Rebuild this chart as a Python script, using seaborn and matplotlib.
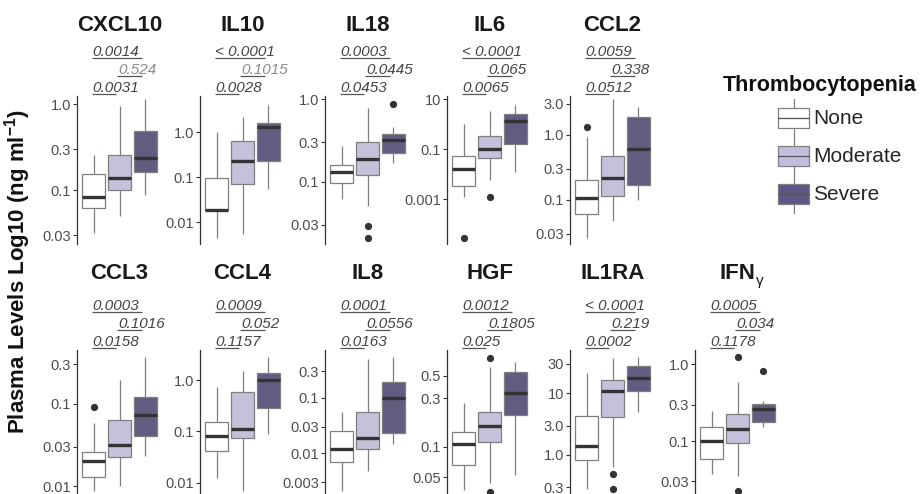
import numpy as np
import pandas as pd
import matplotlib
matplotlib.use("Agg")
import matplotlib.pyplot as plt
import seaborn as sns
from matplotlib.transforms import blended_transform_factory, offset_copy
from matplotlib.legend_handler import HandlerBase
from matplotlib.patches import Patch, Rectangle
from matplotlib.lines import Line2D
from matplotlib.ticker import FixedLocator, FixedFormatter, NullLocator

# -------------------------------
# Data
# box stats per group: [whisker low, Q1, median, Q3, whisker high]
# -------------------------------
groups = ["None", "Moderate", "Severe"]
group_colors = ["#ffffff", "#c1bdde", "#5f5687"]

cxcl10_stats = [[0.032, 0.062, 0.083, 0.153, 0.255],
                [0.050, 0.100, 0.138, 0.255, 0.95],
                [0.088, 0.162, 0.235, 0.49, 1.14]]
cxcl10_fliers = [[], [], []]
cxcl10_p = ["0.0014", "0.524", "0.0031"]
cxcl10_ticks = [0.03, 0.1, 0.3, 1.0]
cxcl10_labels = ["0.03", "0.1", "0.3", "1.0"]

il10_stats = [[0.0045, 0.0187, 0.0187, 0.097, 1.0],
              [0.0055, 0.07, 0.23, 0.64, 2.2],
              [0.056, 0.23, 1.31, 1.6, 4.0]]
il10_fliers = [[], [], []]
il10_p = ["< 0.0001", "0.1015", "0.0028"]
il10_ticks = [0.01, 0.1, 1.0]
il10_labels = ["0.01", "0.1", "1.0"]

il18_stats = [[0.061, 0.096, 0.13, 0.16, 0.27],
              [0.050, 0.12, 0.19, 0.30, 0.79],
              [0.17, 0.225, 0.32, 0.38, 0.46]]
il18_fliers = [[], [0.029, 0.0206], [0.88]]
il18_p = ["0.0003", "0.0445", "0.0453"]
il18_ticks = [0.03, 0.1, 0.3, 1.0]
il18_labels = ["0.03", "0.1", "0.3", "1.0"]

il6_stats = [[0.0012, 0.0034, 0.017, 0.054, 1.0],
             [0.0059, 0.044, 0.10, 0.34, 3.5],
             [0.0126, 0.16, 1.35, 2.5, 5.9]]
il6_fliers = [[2.8e-5], [0.0012], []]
il6_p = ["< 0.0001", "0.065", "0.0065"]
il6_ticks = [0.001, 0.1, 10]
il6_labels = ["0.001", "0.1", "10"]

ccl2_stats = [[0.026, 0.060, 0.108, 0.20, 0.94],
              [0.048, 0.115, 0.22, 0.47, 3.6],
              [0.10, 0.17, 0.61, 1.87, 2.67]]
ccl2_fliers = [[1.34], [], []]
ccl2_p = ["0.0059", "0.338", "0.0512"]
ccl2_ticks = [0.03, 0.1, 0.3, 1.0, 3.0]
ccl2_labels = ["0.03", "0.1", "0.3", "1.0", "3.0"]

ccl3_stats = [[0.0088, 0.013, 0.0203, 0.026, 0.058],
              [0.010, 0.0223, 0.0316, 0.063, 0.194],
              [0.023, 0.040, 0.073, 0.119, 0.366]]
ccl3_fliers = [[0.092], [], []]
ccl3_p = ["0.0003", "0.1016", "0.0158"]
ccl3_ticks = [0.01, 0.03, 0.1, 0.3]
ccl3_labels = ["0.01", "0.03", "0.1", "0.3"]

ccl4_stats = [[0.0121, 0.041, 0.081, 0.15, 0.74],
              [0.007, 0.075, 0.109, 0.59, 1.52],
              [0.087, 0.28, 1.0, 1.35, 2.75]]
ccl4_fliers = [[], [], []]
ccl4_p = ["0.0009", "0.052", "0.1157"]
ccl4_ticks = [0.01, 0.1, 1.0]
ccl4_labels = ["0.01", "0.1", "1.0"]

il8_stats = [[0.0021, 0.0069, 0.012, 0.0255, 0.056],
             [0.0049, 0.0121, 0.0186, 0.056, 0.49],
             [0.0145, 0.0235, 0.097, 0.188, 0.53]]
il8_fliers = [[], [], []]
il8_p = ["0.0001", "0.0556", "0.0163"]
il8_ticks = [0.003, 0.01, 0.03, 0.1, 0.3]
il8_labels = ["0.003", "0.01", "0.03", "0.1", "0.3"]

hgf_stats = [[0.037, 0.066, 0.106, 0.14, 0.27],
             [0.044, 0.110, 0.161, 0.22, 0.61],
             [0.052, 0.207, 0.336, 0.54, 0.68]]
hgf_fliers = [[], [0.036, 0.755], []]
hgf_p = ["0.0012", "0.1805", "0.025"]
hgf_ticks = [0.05, 0.1, 0.3, 0.5]
hgf_labels = ["0.05", "0.1", "0.3", "0.5"]

il1ra_stats = [[0.277, 0.83, 1.4, 4.3, 21],
               [0.65, 4.2, 10.8, 16.5, 38],
               [5.0, 11, 17.7, 27.7, 39]]
il1ra_fliers = [[], [0.50, 0.28], []]
il1ra_p = ["< 0.0001", "0.219", "0.0002"]
il1ra_ticks = [0.3, 1.0, 3.0, 10, 30]
il1ra_labels = ["0.3", "1.0", "3.0", "10", "30"]

ifng_stats = [[0.037, 0.058, 0.10, 0.151, 0.246],
              [0.035, 0.095, 0.145, 0.225, 0.59],
              [0.151, 0.179, 0.261, 0.304, 0.336]]
ifng_fliers = [[], [0.0225, 1.23], [0.82]]
ifng_p = ["0.0005", "0.034", "0.1178"]
ifng_ticks = [0.03, 0.1, 0.3, 1.0]
ifng_labels = ["0.03", "0.1", "0.3", "1.0"]

# p-values drawn in light grey
light_p = {("CXCL10", 1), ("IL10", 1)}

panels = [
    ("CXCL10", cxcl10_stats, cxcl10_fliers, cxcl10_p, cxcl10_ticks, cxcl10_labels),
    ("IL10", il10_stats, il10_fliers, il10_p, il10_ticks, il10_labels),
    ("IL18", il18_stats, il18_fliers, il18_p, il18_ticks, il18_labels),
    ("IL6", il6_stats, il6_fliers, il6_p, il6_ticks, il6_labels),
    ("CCL2", ccl2_stats, ccl2_fliers, ccl2_p, ccl2_ticks, ccl2_labels),
    ("CCL3", ccl3_stats, ccl3_fliers, ccl3_p, ccl3_ticks, ccl3_labels),
    ("CCL4", ccl4_stats, ccl4_fliers, ccl4_p, ccl4_ticks, ccl4_labels),
    ("IL8", il8_stats, il8_fliers, il8_p, il8_ticks, il8_labels),
    ("HGF", hgf_stats, hgf_fliers, hgf_p, hgf_ticks, hgf_labels),
    ("IL1RA", il1ra_stats, il1ra_fliers, il1ra_p, il1ra_ticks, il1ra_labels),
    ("IFN", ifng_stats, ifng_fliers, ifng_p, ifng_ticks, ifng_labels),
]

# -------------------------------
# Layout (pixels of a 922x494 canvas)
# -------------------------------
W, H = 922, 494
panel_left = [77, 200, 325, 447, 570, 77, 200, 325, 447, 570, 695]
panel_top = [96] * 5 + [350] * 6
panel_bottom = [244] * 5 + [494] * 6
panel_ylim = [(0.0236, 1.24), (0.0033, 6.4), (0.0175, 1.096), (1.63e-5, 13.5),
              (0.021, 3.98), (0.0080, 0.449), (0.006, 3.85), (0.00186, 0.72),
              (0.0341, 0.90), (0.233, 50.4), (0.0205, 1.54)]
panel_w = 85


def make_sample(stats, fliers):
    # 17 values: the 25/50/75 % positions fall exactly on Q1, median, Q3
    lo, q1, med, q3, hi = stats
    low = [f for f in fliers if f < q1]
    high = [f for f in fliers if f > q3]
    return low + [lo] * (4 - len(low)) + [q1] * 4 + [med] * 4 + [q3] \
        + [hi] * (4 - len(high)) + high


sns.set_style("white")
plt.rcParams["font.family"] = ["Liberation Sans", "DejaVu Sans"]
plt.rcParams["mathtext.fontset"] = "custom"
plt.rcParams["mathtext.rm"] = "Liberation Sans"
plt.rcParams["mathtext.bf"] = "Liberation Sans:bold"

fig = plt.figure(figsize=(W / 100, H / 100), dpi=100)

pal = dict(zip(groups, group_colors))

for k, (name, stats, fliers, pvals, ticks, labels) in enumerate(panels):
    left, top, bottom = panel_left[k], panel_top[k], panel_bottom[k]
    ax = fig.add_axes([left / W, 1 - bottom / H, panel_w / W, (bottom - top) / H])

    rows = []
    for g, st, fl in zip(groups, stats, fliers):
        for v in make_sample(st, fl):
            rows.append((g, v))
    df = pd.DataFrame(rows, columns=["group", "value"])

    sns.boxplot(
        data=df, x="group", y="value", hue="group", order=groups,
        hue_order=groups, palette=pal, log_scale=True, width=0.9,
        linecolor="#7f7f7f", linewidth=0.9, showcaps=False, legend=False,
        medianprops={"color": "#333333", "linewidth": 2.4},
        flierprops={"marker": "o", "markerfacecolor": "#333333",
                    "markeredgecolor": "#333333"},
        fliersize=4.2, ax=ax,
    )

    ax.set_xlim(-0.65, 2.65)
    ax.set_ylim(*panel_ylim[k])
    ax.yaxis.set_major_locator(FixedLocator(ticks))
    ax.yaxis.set_major_formatter(FixedFormatter(labels))
    ax.yaxis.set_minor_locator(NullLocator())
    ax.set_xticks([])
    ax.set_xlabel("")
    ax.set_ylabel("")
    ax.tick_params(axis="y", length=3, width=0.8, color="#333333",
                   labelsize=10.5, labelcolor="#4d4d4d", pad=1.5, left=True)
    for s in ["top", "right", "bottom"]:
        ax.spines[s].set_visible(False)
    ax.spines["left"].set_color("#333333")
    ax.spines["left"].set_linewidth(0.9)
    ax.patch.set_alpha(0)

    # significance bars above the panel (offsets in points from panel top)
    base = blended_transform_factory(ax.transData, ax.transAxes)
    pairs = [(0, 2, 27.4), (1, 2, 14.4), (0, 1, 1.4)]
    for j, ((a, b, dy), p) in enumerate(zip(pairs, pvals)):
        tr = offset_copy(base, fig=fig, y=dy, units="points")
        col = "#8c8c8c" if (name, j) in light_p else "#444444"
        ax.plot([a - 0.08, b - 0.12], [1, 1], transform=tr, color="#555555",
                lw=0.9, clip_on=False, solid_capstyle="butt")
        tr_t = offset_copy(base, fig=fig, y=dy + 1.6, units="points")
        ax.text(a - 0.06, 1, p, transform=tr_t, ha="left", va="baseline",
                fontsize=11, style="italic", color=col, clip_on=False)

    # panel title
    title_off = 51 if k < 5 else 55
    tr_title = offset_copy(base, fig=fig, y=title_off, units="points")
    t = ax.text(1, 1, name, transform=tr_title, ha="center", va="center",
                fontsize=16, fontweight="bold", color="#1a1a1a")
    if name == "IFN":
        ax.annotate("γ", xy=(1, 0.15), xycoords=t, xytext=(0.5, 0),
                    textcoords="offset points", ha="left", va="center",
                    fontsize=11, color="#1a1a1a")

# y axis label
fig.text(18 / W, 1 - 272 / H, "Plasma Levels Log10 (ng ml$^{\\mathbf{-1}}$)",
         rotation=90, ha="center", va="center", fontsize=16,
         fontweight="bold", color="#111111")


# legend with boxplot-style keys
class BoxKey(HandlerBase):
    def create_artists(self, legend, orig_handle, xdescent, ydescent,
                       width, height, fontsize, trans):
        x0, y0 = -xdescent, -ydescent
        cx = x0 + width / 2
        bh = height * 0.54
        by = y0 + (height - bh) / 2
        whisk = Line2D([cx, cx], [y0, y0 + height], color="#7f7f7f",
                       lw=0.9, transform=trans)
        box = Rectangle((x0, by), width, bh,
                        facecolor=orig_handle.get_facecolor(),
                        edgecolor="#7f7f7f", lw=0.9, transform=trans)
        med = Line2D([x0, x0 + width], [by + bh / 2] * 2, color="#555555",
                     lw=0.9, transform=trans)
        return [whisk, box, med]


handles = [Patch(facecolor=c) for c in group_colors]
fig.legend(handles, groups, handler_map={Patch: BoxKey()},
           loc="upper left", bbox_to_anchor=(778 / W, 1 - 99 / H),
           frameon=False, borderpad=0, borderaxespad=0, handlelength=1.5,
           handleheight=2.43, handletextpad=0.2, labelspacing=0,
           prop={"size": 15})
fig.text(723 / W, 1 - 85 / H, "Thrombocytopenia", ha="left", va="center",
         fontsize=15.5, fontweight="bold", color="#111111")

fig.savefig("out.png", dpi=100, facecolor="white")
